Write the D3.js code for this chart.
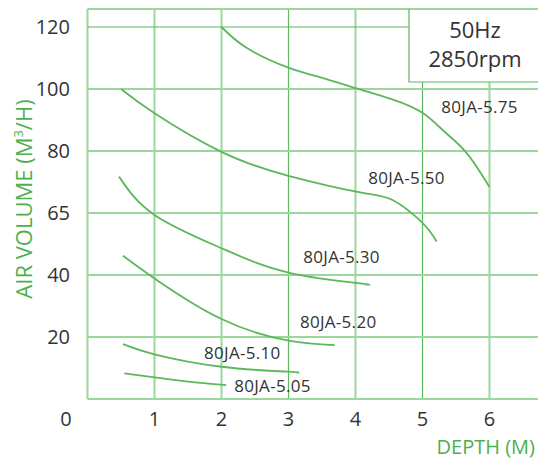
<!DOCTYPE html>
<html>
<head>
<meta charset="utf-8">
<script src="https://cdn.jsdelivr.net/npm/d3@7"></script>
<style>
    body { margin: 0; background: #fff; }
    text { font-family: "Open Sans", sans-serif; }
</style>
</head>
<body>
<script>
// Depth ticks (x) and air volume ticks (y, unevenly valued but evenly spaced)
const xTicks = [1, 2, 3, 4, 5, 6];
const yTicks = [0, 20, 40, 65, 80, 100, 120];

const seriesNames = ["80JA-5.75", "80JA-5.50", "80JA-5.30", "80JA-5.20", "80JA-5.10", "80JA-5.05"];

// [depth, volume] pairs
const curve575 = [[2.0, 120], [2.38, 113.2], [3.0, 106.9], [3.5, 103.6], [4.0, 100.3], [4.56, 96.6], [5.0, 92.3], [5.33, 86.2], [5.66, 79.5], [6.0, 71.3]];
const curve550 = [[0.5, 100], [1.0, 92.2], [2.0, 79.8], [3.0, 74], [4.07, 70], [4.56, 68.1], [5.0, 61], [5.21, 53.5]];
const curve530 = [[0.47, 73.8], [1.0, 64.2], [2.0, 50.8], [3.0, 41], [4.07, 37.3], [4.14, 37]];
const curve520 = [[0.53, 47.8], [1.0, 38.9], [2.0, 25.8], [3.0, 18.8], [3.69, 17.4]];
const curve510 = [[0.53, 17.7], [1.0, 14.4], [2.0, 10.4], [3.0, 8.8], [3.12, 8.5]];
const curve505 = [[0.55, 8.3], [1.0, 7.0], [1.5, 5.6], [2.07, 4.5]];
const curves = [curve575, curve550, curve530, curve520, curve510, curve505];

// where each curve's name sits, in [depth, volume]
const labelAt = [[5.28, 92.3], [4.19, 71.9], [3.22, 44.7], [3.17, 22.8], [1.74, 12.9], [2.19, 2.2]];

const width = 538, height = 459;
const plotLeft = 87.5, plotRight = 538, plotTop = 9, plotBottom = 399;
const boxX = 409, boxBottom = 82;
const green = "#5cb85c", lightGreen = "#9dd69d", textGreen = "#4cb050", ink = "#333";

const svg = d3.select("body").append("svg")
    .attr("width", width)
    .attr("height", height);

const x = d3.scaleLinear().domain([0, 1]).range([plotLeft, plotLeft + 67]);
// piecewise scale: each tick step is the same height on screen
const y = d3.scaleLinear()
    .domain(yTicks)
    .range(yTicks.map((d, i) => plotBottom - i * 62));

// Grid
const grid = svg.append("g").attr("fill", "none");

// vertical lines
grid.selectAll(".vline")
    .data([0].concat(xTicks))
    .join("line")
    .attr("x1", d => x(d)).attr("x2", d => x(d))
    .attr("y1", plotBottom)
    .attr("y2", d => d >= 5 ? boxBottom : plotTop)
    .attr("stroke", d => (d === 3 || d === 5) ? green : lightGreen)
    .attr("stroke-width", d => (d === 3 || d === 5) ? 1.2 : 2);

// horizontal lines
grid.selectAll(".hline")
    .data(yTicks)
    .join("line")
    .attr("x1", plotLeft)
    .attr("x2", d => d === 120 ? boxX : plotRight)
    .attr("y1", d => y(d)).attr("y2", d => y(d))
    .attr("stroke", d => d === 120 ? green : lightGreen)
    .attr("stroke-width", d => d === 120 ? 1.2 : 2);

// top border
grid.append("line")
    .attr("x1", plotLeft).attr("x2", plotRight)
    .attr("y1", plotTop).attr("y2", plotTop)
    .attr("stroke", lightGreen).attr("stroke-width", 2);

// frequency box
grid.append("path")
    .attr("d", `M${boxX},${plotTop} V${boxBottom} H${plotRight}`)
    .attr("stroke", green).attr("stroke-width", 1.2);

svg.append("text")
    .attr("x", 475).attr("y", 38)
    .attr("text-anchor", "middle")
    .attr("font-size", "22px")
    .attr("fill", ink)
    .text("50Hz");
svg.append("text")
    .attr("x", 475).attr("y", 67)
    .attr("text-anchor", "middle")
    .attr("font-size", "22px")
    .attr("fill", ink)
    .text("2850rpm");

// Curves
const line = d3.line()
    .x(d => x(d[0]))
    .y(d => y(d[1]))
    .curve(d3.curveNatural);

svg.append("g")
    .selectAll("path")
    .data(curves)
    .join("path")
    .attr("d", line)
    .attr("fill", "none")
    .attr("stroke", green)
    .attr("stroke-width", 1.8);

svg.append("g")
    .selectAll("text")
    .data(seriesNames)
    .join("text")
    .attr("x", (d, i) => x(labelAt[i][0]))
    .attr("y", (d, i) => y(labelAt[i][1]))
    .attr("font-size", "17px")
    .attr("letter-spacing", "0.3px")
    .attr("fill", ink)
    .text(d => d);

// Tick labels
svg.append("g")
    .selectAll("text")
    .data(yTicks.filter(d => d > 0))
    .join("text")
    .attr("x", 70)
    .attr("y", d => y(d))
    .attr("dy", "0.35em")
    .attr("text-anchor", "end")
    .attr("font-size", "20px")
    .attr("fill", ink)
    .text(d => d);

svg.append("g")
    .selectAll("text")
    .data(xTicks)
    .join("text")
    .attr("x", d => x(d))
    .attr("y", 426)
    .attr("text-anchor", "middle")
    .attr("font-size", "20px")
    .attr("fill", ink)
    .text(d => d);

svg.append("text")
    .attr("x", 66).attr("y", 426)
    .attr("text-anchor", "middle")
    .attr("font-size", "20px")
    .attr("fill", ink)
    .text("0");

// Axis titles
svg.append("text")
    .attr("transform", "translate(32,199) rotate(-90)")
    .attr("text-anchor", "middle")
    .attr("font-size", "22px")
    .attr("fill", textGreen)
    .html('AIR VOLUME (M<tspan font-size="13px" dy="-9">3</tspan><tspan dy="9">/H)</tspan>');

svg.append("text")
    .attr("x", 535).attr("y", 454)
    .attr("text-anchor", "end")
    .attr("font-size", "20px")
    .attr("fill", textGreen)
    .text("DEPTH (M)");
</script>
</body>
</html>
